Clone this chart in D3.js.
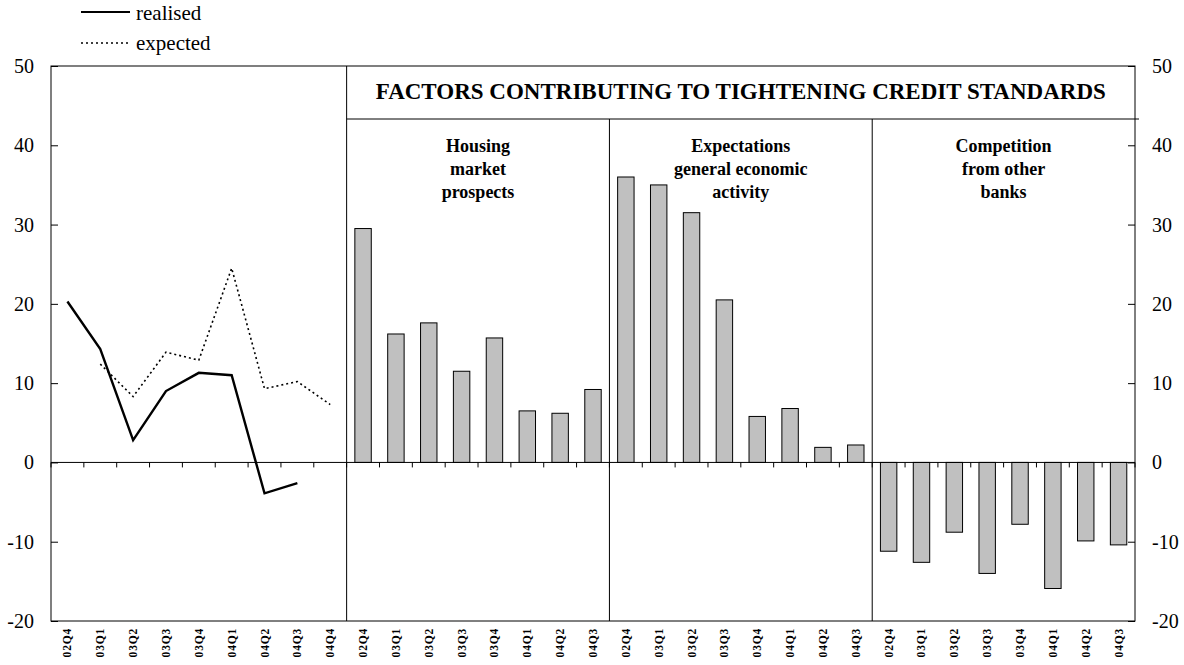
<!DOCTYPE html>
<html><head><meta charset="utf-8">
<script src="https://cdn.jsdelivr.net/npm/d3@7"></script>
<style>body{margin:0;background:#fff;} svg{display:block;} text{font-family:"Liberation Serif","DejaVu Serif","Times New Roman",serif;}</style>
</head><body>
<svg id="c" width="1184" height="665"></svg>
<script>
const lineQuarters = ["02Q4","03Q1","03Q2","03Q3","03Q4","04Q1","04Q2","04Q3","04Q4"];
const barQuarters = ["02Q4","03Q1","03Q2","03Q3","03Q4","04Q1","04Q2","04Q3"];
const realised = [20.3, 14.3, 2.8, 9.0, 11.3, 11.0, -3.9, -2.6, null];
const expected = [null, 12.4, 8.3, 13.9, 12.9, 24.5, 9.3, 10.2, 7.3];
const housing = [29.5, 16.2, 17.6, 11.5, 15.7, 6.5, 6.2, 9.2];
const expectations = [36.0, 35.0, 31.5, 20.5, 5.8, 6.8, 1.9, 2.2];
const competition = [-11.2, -12.6, -8.8, -14.0, -7.8, -15.9, -9.9, -10.4];
const panelLabels = [["Housing","market","prospects"],["Expectations","general economic","activity"],["Competition","from other","banks"]];
const title = "FACTORS CONTRIBUTING TO TIGHTENING CREDIT STANDARDS";
const yTicks = [-20,-10,0,10,20,30,40,50];

const svg = d3.select("#c");
const L = 51, R = 1135, T = 66, B = 621;

const keys = [];
lineQuarters.forEach((q,i)=>keys.push({g:0,q,i}));
barQuarters.forEach((q,i)=>keys.push({g:1,q,i}));
barQuarters.forEach((q,i)=>keys.push({g:2,q,i}));
barQuarters.forEach((q,i)=>keys.push({g:3,q,i}));
const x = d3.scaleBand().domain(keys.map(k=>k.g+"-"+k.q)).range([L,R]).padding(0);
const y = d3.scaleLinear().domain([-20,50]).range([B,T]);
const bw = x.bandwidth();

svg.append("rect").attr("x",L).attr("y",T).attr("width",R-L).attr("height",B-T)
  .attr("fill","none").attr("stroke","#000").attr("stroke-width",1);

const yl = svg.append("g").attr("transform",`translate(${L},0)`)
  .call(d3.axisRight(y).tickValues(yTicks).tickSize(7).tickFormat(""));
const yr = svg.append("g").attr("transform",`translate(${R},0)`)
  .call(d3.axisLeft(y).tickValues(yTicks).tickSize(7).tickFormat(""));
[yl,yr].forEach(g=>{g.select(".domain").remove(); g.selectAll("line").attr("stroke","#000");});
svg.selectAll(".ylab").data(yTicks).join("text")
  .attr("x",34).attr("y",d=>y(d)+7).attr("text-anchor","end")
  .attr("font-size",20).text(d=>d);
svg.selectAll(".yrlab").data(yTicks).join("text")
  .attr("x",1152).attr("y",d=>y(d)+7).attr("text-anchor","start")
  .attr("font-size",20).text(d=>d);

const b1 = x("1-02Q4"), b2 = x("2-02Q4"), b3 = x("3-02Q4");
svg.append("line").attr("x1",b1).attr("x2",b1).attr("y1",T).attr("y2",B).attr("stroke","#000");
const hdrY = 119;
svg.append("line").attr("x1",b1).attr("x2",R+4).attr("y1",hdrY).attr("y2",hdrY).attr("stroke","#000");
[b2,b3].forEach(bx=>svg.append("line").attr("x1",bx).attr("x2",bx).attr("y1",hdrY).attr("y2",B).attr("stroke","#000"));

svg.append("text").attr("x",(b1+R)/2).attr("y",99).attr("text-anchor","middle")
  .attr("font-weight","bold").attr("font-size",23).text(title);
[[b1,b2],[b2,b3],[b3,R]].forEach((p,pi)=>{
  panelLabels[pi].forEach((t,li)=>{
    svg.append("text").attr("x",(p[0]+p[1])/2).attr("y",151.5+li*23).attr("text-anchor","middle")
      .attr("font-weight","bold").attr("font-size",18).text(t);
  });
});

const series = [housing, expectations, competition];
series.forEach((vals,si)=>{
  svg.append("g").selectAll("rect").data(vals).join("rect")
    .attr("x",(d,i)=>x((si+1)+"-"+barQuarters[i]) + bw/4)
    .attr("width",bw/2)
    .attr("y",d=>y(Math.max(0,d)))
    .attr("height",d=>Math.abs(y(d)-y(0)))
    .attr("fill","#c0c0c0").attr("stroke","#000").attr("stroke-width",1);
});

svg.append("line").attr("x1",L).attr("x2",R).attr("y1",y(0)).attr("y2",y(0)).attr("stroke","#000");
const bounds = keys.map(k=>x(k.g+"-"+k.q)).concat([R]);
svg.append("g").selectAll("line").data(bounds).join("line")
  .attr("x1",d=>d).attr("x2",d=>d).attr("y1",y(0)).attr("y2",y(0)+5).attr("stroke","#000");

const cx = (i)=>x("0-"+lineQuarters[i]) + bw/2;
const ln = d3.line().defined(d=>d[1]!==null).x(d=>cx(d[0])).y(d=>y(d[1]));
svg.append("path").datum(expected.map((v,i)=>[i,v])).attr("d",ln)
  .attr("fill","none").attr("stroke","#000").attr("stroke-width",1.6).attr("stroke-dasharray","2,3");
svg.append("path").datum(realised.map((v,i)=>[i,v])).attr("d",ln)
  .attr("fill","none").attr("stroke","#000").attr("stroke-width",2.4);

keys.forEach(k=>{
  const xx = x(k.g+"-"+k.q)+bw/2;
  svg.append("text").attr("transform",`translate(${xx+4},628) rotate(-90)`)
    .attr("text-anchor","end").attr("font-weight","bold")
    .attr("font-size",11.5).attr("letter-spacing",0.8).text(k.q);
});

svg.append("line").attr("x1",81).attr("x2",130).attr("y1",12).attr("y2",12).attr("stroke","#000").attr("stroke-width",2.2);
svg.append("text").attr("x",136).attr("y",20).attr("font-size",21).text("realised");
svg.append("line").attr("x1",81).attr("x2",130).attr("y1",43).attr("y2",43).attr("stroke","#000").attr("stroke-width",1.6).attr("stroke-dasharray","2,3");
svg.append("text").attr("x",136).attr("y",50).attr("font-size",21).text("expected");
</script>
</body></html>
